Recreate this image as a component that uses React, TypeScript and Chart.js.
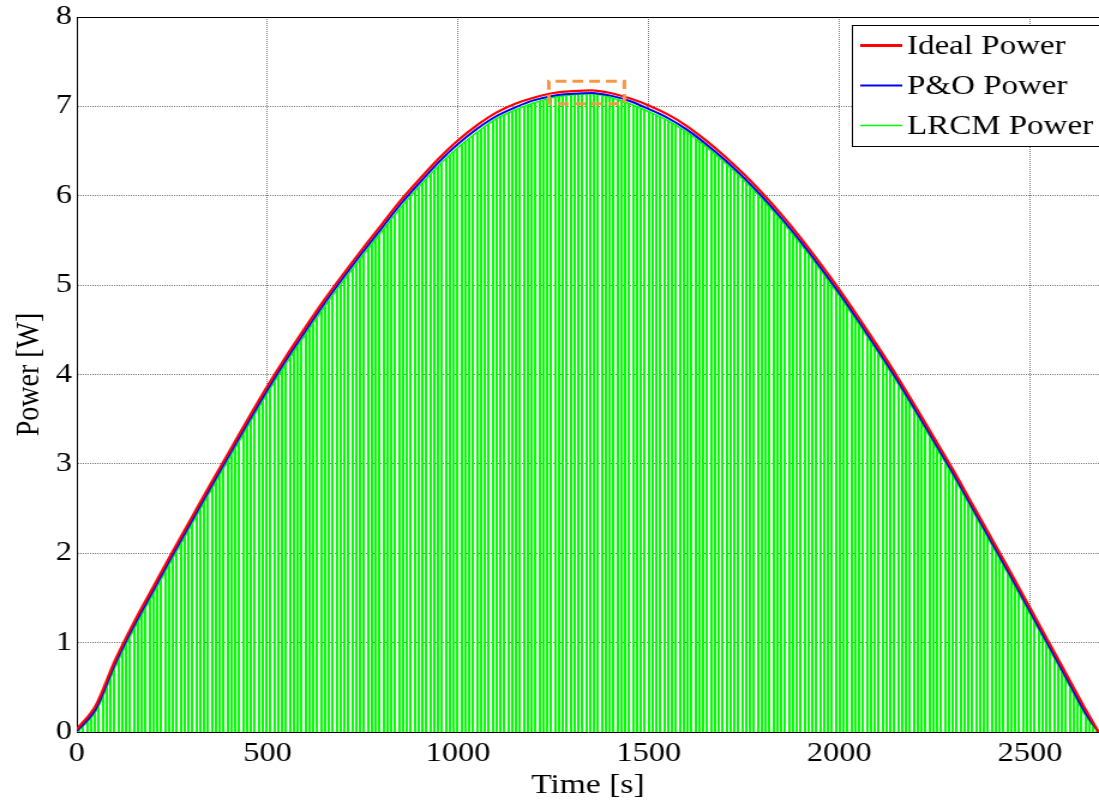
import React, { useEffect, useRef } from 'react';
import { Chart, registerables } from 'chart.js';

Chart.register(...registerables);

// ---- Data ----
const timeS = [
  0, 50, 100, 150, 200, 250, 300, 350, 400, 450, 500, 550, 600, 650, 700, 750, 800, 850, 900, 950,
  1000, 1050, 1100, 1150, 1200, 1250, 1300, 1350, 1400, 1450, 1500, 1550, 1600, 1650, 1700, 1750,
  1800, 1850, 1900, 1950, 2000, 2050, 2100, 2150, 2200, 2250, 2300, 2350, 2400, 2450, 2500, 2550,
  2600, 2650, 2680,
];

const idealPower = [
  0.03, 0.30, 0.80, 1.23, 1.62, 2.01, 2.39, 2.77, 3.14, 3.51, 3.87, 4.21, 4.53, 4.84, 5.13, 5.41,
  5.68, 5.95, 6.19, 6.42, 6.62, 6.79, 6.93, 7.03, 7.10, 7.15, 7.17, 7.18, 7.15, 7.09, 7.01, 6.91,
  6.78, 6.62, 6.44, 6.24, 6.02, 5.78, 5.52, 5.24, 4.95, 4.64, 4.32, 3.99, 3.64, 3.28, 2.92, 2.54,
  2.16, 1.78, 1.39, 1.00, 0.61, 0.22, 0.00,
];

const poPower = [
  0.01, 0.26, 0.76, 1.19, 1.58, 1.97, 2.35, 2.73, 3.10, 3.47, 3.83, 4.17, 4.49, 4.80, 5.09, 5.37,
  5.64, 5.91, 6.15, 6.38, 6.58, 6.75, 6.89, 6.99, 7.07, 7.12, 7.14, 7.15, 7.12, 7.06, 6.97, 6.87,
  6.74, 6.58, 6.40, 6.20, 5.98, 5.74, 5.48, 5.20, 4.91, 4.60, 4.28, 3.95, 3.60, 3.24, 2.88, 2.50,
  2.12, 1.74, 1.35, 0.96, 0.57, 0.18, 0.00,
];

const lrcmPower = [
  0.00, 0.23, 0.72, 1.15, 1.54, 1.93, 2.31, 2.69, 3.06, 3.43, 3.79, 4.13, 4.45, 4.76, 5.05, 5.33,
  5.60, 5.87, 6.11, 6.34, 6.54, 6.71, 6.86, 6.96, 7.04, 7.10, 7.13, 7.14, 7.10, 7.03, 6.94, 6.84,
  6.71, 6.55, 6.37, 6.17, 5.95, 5.71, 5.45, 5.17, 4.88, 4.57, 4.25, 3.92, 3.57, 3.21, 2.85, 2.47,
  2.09, 1.71, 1.32, 0.93, 0.54, 0.15, 0.00,
];

const seriesLabels = ['Ideal Power', 'P&O Power', 'LRCM Power'];
const xTickValues = [0, 500, 1000, 1500, 2000, 2500];
const yTickValues = [0, 1, 2, 3, 4, 5, 6, 7, 8];
const zoomBoxX = [1238, 1238, 1436, 1436, 1238];
const zoomBoxY = [7.03, 7.28, 7.28, 7.03, 7.03];

const FONT = "'Liberation Serif', 'Times New Roman', serif";

// The reference figure is stretched horizontally; draw narrower and stretch with CSS.
const OUT_W = 1099;
const OUT_H = 803;
const INNER_W = 916;

function makeStripePattern(ctx: CanvasRenderingContext2D): CanvasPattern | string {
  const c = document.createElement('canvas');
  c.width = 13;
  c.height = 4;
  const g = c.getContext('2d');
  if (!g) return '#00ff00';
  const cols = [1, 1, 0, 1, 1, 0, 0, 1, 1, 0, 1, 1, 0];
  cols.forEach((on, i) => {
    if (on) {
      g.fillStyle = '#00ff00';
      g.fillRect(i, 0, 1, 4);
    }
  });
  return ctx.createPattern(c, 'repeat') || '#00ff00';
}

const framePlugin = {
  id: 'frameAndLegend',
  afterDraw(chart: any) {
    const { ctx, chartArea } = chart;
    ctx.save();
    ctx.strokeStyle = '#000';
    ctx.lineWidth = 1;
    ctx.beginPath();
    ctx.moveTo(chartArea.left, chartArea.top + 0.5);
    ctx.lineTo(chartArea.right, chartArea.top + 0.5);
    ctx.stroke();

    const lx = chartArea.left + 646.5;
    const ly = chartArea.top + 8.5;
    const lw = 300;
    const lh = 121;
    ctx.fillStyle = '#fff';
    ctx.fillRect(lx, ly, lw, lh);
    ctx.strokeStyle = '#000';
    ctx.lineWidth = 1;
    ctx.strokeRect(lx, ly, lw, lh);

    const items = chart.data.datasets.filter((d: any) => seriesLabels.includes(d.label));
    items.forEach((d: any, i: number) => {
      const y = ly + 20 + i * 40;
      ctx.strokeStyle = d.borderColor;
      ctx.lineWidth = d.legendWidth;
      ctx.setLineDash([]);
      ctx.beginPath();
      ctx.moveTo(lx + 6.5, y);
      ctx.lineTo(lx + 41.5, y);
      ctx.stroke();
      ctx.fillStyle = '#000';
      ctx.font = `27.5px ${FONT}`;
      ctx.textBaseline = 'middle';
      ctx.textAlign = 'left';
      ctx.fillText(d.label, lx + 45.5, y + 1);
    });
    ctx.restore();
  },
};

export default function App() {
  const ref = useRef<HTMLCanvasElement>(null);

  useEffect(() => {
    const canvas = ref.current;
    if (!canvas) return;
    const ctx = canvas.getContext('2d');
    if (!ctx) return;
    const pattern = makeStripePattern(ctx);

    const toPts = (ys: number[]) => timeS.map((t, i) => ({ x: t, y: ys[i] }));

    const chart = new Chart(canvas, {
      type: 'line',
      data: {
        datasets: [
          {
            label: 'zoom',
            data: zoomBoxX.map((x, i) => ({ x, y: zoomBoxY[i] })),
            borderColor: '#f79646',
            borderWidth: 3,
            borderDash: [9, 5],
            pointRadius: 0,
            fill: false,
            tension: 0,
          } as any,
          {
            label: seriesLabels[0],
            data: toPts(idealPower),
            borderColor: '#ff0000',
            borderWidth: 2.2,
            legendWidth: 3,
            pointRadius: 0,
            fill: false,
            cubicInterpolationMode: 'monotone',
          } as any,
          {
            label: seriesLabels[1],
            data: toPts(poPower),
            borderColor: '#0000ff',
            borderWidth: 2,
            legendWidth: 2,
            pointRadius: 0,
            fill: false,
            cubicInterpolationMode: 'monotone',
          } as any,
          {
            label: seriesLabels[2],
            data: toPts(lrcmPower),
            borderColor: '#00ff00',
            borderWidth: 1.5,
            legendWidth: 1.5,
            backgroundColor: pattern,
            pointRadius: 0,
            fill: 'origin',
            cubicInterpolationMode: 'monotone',
          } as any,
        ],
      },
      options: {
        animation: false,
        responsive: false,
        devicePixelRatio: 1,
        events: [],
        layout: { padding: { top: 17, left: 0, right: 0, bottom: 0 } },
        plugins: {
          legend: { display: false },
          tooltip: { enabled: false },
        },
        scales: {
          x: {
            type: 'linear',
            min: 0,
            max: 2681,
            afterBuildTicks: (s: any) => {
              s.ticks = xTickValues.map((v) => ({ value: v }));
            },
            afterFit: (s: any) => {
              s.height = 71;
            },
            ticks: {
              font: { family: FONT, size: 27, lineHeight: 1.2 },
              color: '#000',
              padding: 6,
              maxRotation: 0,
              autoSkip: false,
              callback: (v: any) => String(v),
            },
            grid: { color: '#777', drawTicks: false, tickLength: 0 },
            border: { color: '#000', width: 1, dash: [1, 1] },
            title: {
              display: true,
              text: 'Time [s]',
              font: { family: FONT, size: 28, lineHeight: 1.2 },
              color: '#000',
              padding: { top: 0, bottom: 1 },
            },
          },
          y: {
            type: 'linear',
            min: 0,
            max: 8,
            afterBuildTicks: (s: any) => {
              s.ticks = yTickValues.map((v) => ({ value: v }));
            },
            afterFit: (s: any) => {
              s.width = 64;
            },
            ticks: {
              font: { family: FONT, size: 27, lineHeight: 0.9 },
              color: '#000',
              padding: 4,
              autoSkip: false,
              callback: (v: any) => String(v),
            },
            grid: { color: '#777', drawTicks: false, tickLength: 0 },
            border: { color: '#000', width: 1, dash: [1, 1] },
            title: {
              display: true,
              text: 'Power [W]',
              font: { family: FONT, size: 28, lineHeight: 1.2 },
              color: '#000',
              padding: { top: 8, bottom: 0 },
            },
          },
        },
      },
      plugins: [framePlugin],
    });
    return () => chart.destroy();
  }, []);

  return (
    <div style={{ position: 'fixed', left: 0, top: 0, width: OUT_W, height: OUT_H, background: '#fff', overflow: 'hidden' }}>
      <canvas
        ref={ref}
        width={INNER_W}
        height={OUT_H}
        style={{ display: 'block', width: `${OUT_W}px`, height: `${OUT_H}px` }}
      />
    </div>
  );
}
